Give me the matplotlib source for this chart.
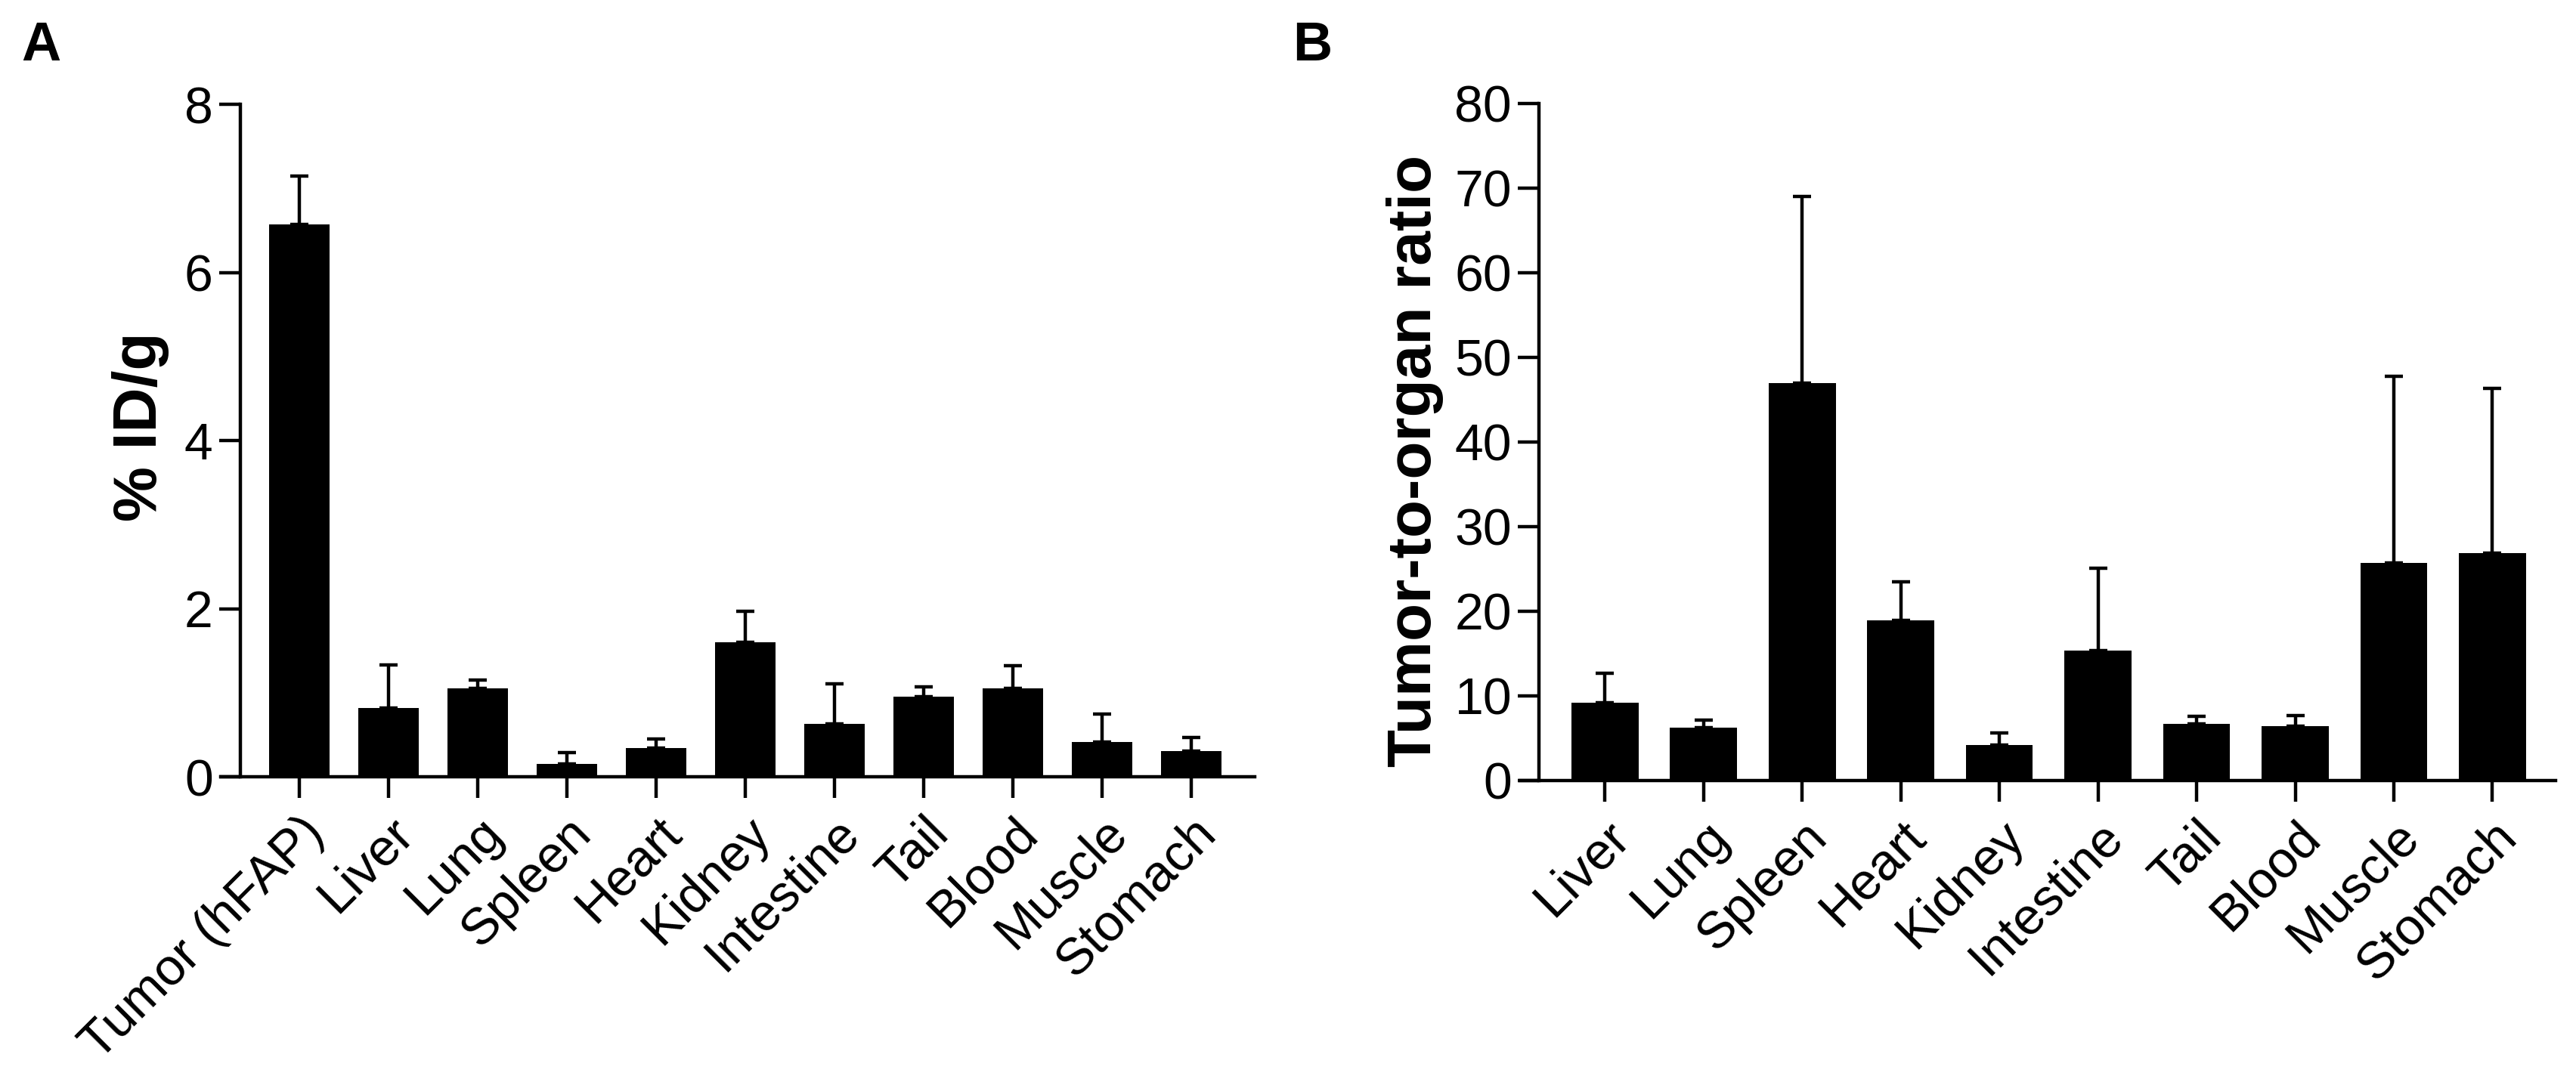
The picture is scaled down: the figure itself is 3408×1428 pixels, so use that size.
import matplotlib
matplotlib.use('Agg')
import matplotlib.pyplot as plt
import numpy as np

plt.rcParams['font.family'] = ['Liberation Sans', 'DejaVu Sans']

# ---- data ----
organs_a = ['Tumor (hFAP)', 'Liver', 'Lung', 'Spleen', 'Heart', 'Kidney',
            'Intestine', 'Tail', 'Blood', 'Muscle', 'Stomach']
idg_mean = [6.57, 0.82, 1.05, 0.15, 0.34, 1.60, 0.63, 0.95, 1.05, 0.41, 0.31]
idg_sd = [0.58, 0.51, 0.10, 0.14, 0.11, 0.37, 0.48, 0.12, 0.27, 0.34, 0.16]
yticks_a = [0, 2, 4, 6, 8]

organs_b = ['Liver', 'Lung', 'Spleen', 'Heart', 'Kidney', 'Intestine',
            'Tail', 'Blood', 'Muscle', 'Stomach']
ratio_mean = [9.2, 6.25, 47.0, 18.9, 4.2, 15.35, 6.7, 6.4, 25.7, 26.9]
ratio_sd = [3.5, 0.9, 22.0, 4.6, 1.4, 9.75, 0.85, 1.3, 22.1, 19.4]
yticks_b = [0, 10, 20, 30, 40, 50, 60, 70, 80]

W, H = 3408, 1428
fig = plt.figure(figsize=(W / 200, H / 200), dpi=200)

LW = 1.6
TICK_FS = 24.5


def panel(rect, cats, mean, sd, yticks, ylim, xlim, spine_x, ylabel, ylab_xy, ylab_fs):
    l, t, r, b = rect
    ax = fig.add_axes([l / W, 1 - b / H, (r - l) / W, (b - t) / H])
    x = np.arange(len(cats))
    ax.bar(x, mean, width=0.68, color='black', zorder=2)
    ax.errorbar(x, mean, yerr=[np.zeros(len(sd)), sd], fmt='none',
                ecolor='black', elinewidth=LW, capsize=4.2, capthick=LW, zorder=3)
    ax.set_xlim(*xlim)
    ax.set_ylim(*ylim)
    for s in ['top', 'right']:
        ax.spines[s].set_visible(False)
    ax.spines['left'].set_position(('data', spine_x))
    ax.spines['left'].set_bounds(ylim[0], ylim[1])
    ax.spines['left'].set_linewidth(LW)
    ax.spines['bottom'].set_linewidth(LW)
    ax.set_yticks(yticks)
    ax.set_yticklabels([str(v) for v in yticks], fontsize=TICK_FS)
    ax.set_xticks(x)
    ax.set_xticklabels(cats, fontsize=TICK_FS, rotation=45, ha='right',
                       va='top', rotation_mode='anchor')
    ax.tick_params(axis='both', direction='out', length=10, width=LW, color='black')
    ax.tick_params(axis='y', pad=3)
    ax.tick_params(axis='x', pad=5)
    fig.text(ylab_xy[0] / W, 1 - ylab_xy[1] / H, ylabel, rotation=90,
             ha='center', va='center', fontsize=ylab_fs, fontweight='bold')
    return ax


# Panel A
panel((291.5, 138, 1660, 1028), organs_a, idg_mean, idg_sd, yticks_a, (0, 8),
      (-0.884, 10.71), -0.661, '% ID/g', (186, 565), 29.5)
# Panel B
panel((2011, 137, 3381, 1033), organs_b, ratio_mean, ratio_sd, yticks_b, (0, 80),
      (-0.86, 9.64), -0.667, 'Tumor-to-organ ratio', (1872, 610), 29.5)

fig.text(28 / W, 1 - 27 / H, 'A', ha='left', va='top', fontsize=26, fontweight='bold')
fig.text(1710 / W, 1 - 27 / H, 'B', ha='left', va='top', fontsize=26, fontweight='bold')

fig.savefig('out.png', dpi=200, facecolor='white')
